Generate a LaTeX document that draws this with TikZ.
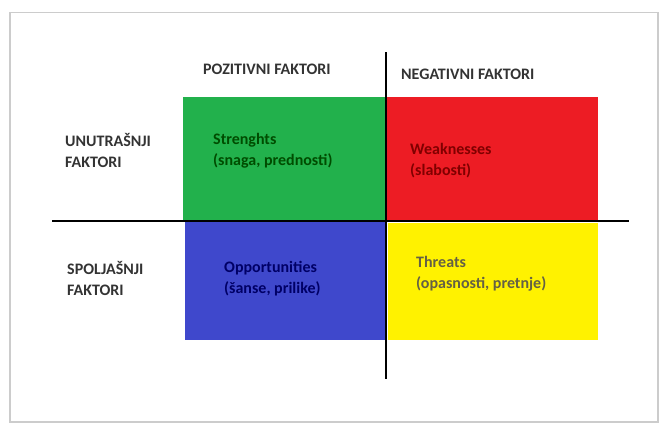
\documentclass[tikz,border=0pt]{standalone}
\usepackage{fontspec}
\setmainfont{Carlito}
\definecolor{swgreen}{RGB}{34,177,76}
\definecolor{swred}{RGB}{237,28,36}
\definecolor{swblue}{RGB}{63,72,204}
\definecolor{swyellow}{RGB}{255,242,0}
\begin{document}
\begin{tikzpicture}
		[x=1pt,y=-1pt,
		quad/.style={rectangle,anchor=north west,inner sep=0pt},
		head/.style={anchor=west,inner sep=0pt,font=\bfseries\fontsize{16}{18}\selectfont,text=black!80},
		side/.style={anchor=north west,align=left,inner sep=0pt,font=\bfseries\fontsize{16}{21}\selectfont,text=black!80},
		inner/.style={anchor=north west,align=left,inner sep=0pt,font=\bfseries\fontsize{16}{21}\selectfont},
		axis/.style={-,line width=2.2pt,black}]
		\useasboundingbox (0,0) rectangle (659,423);
		\draw[black!20,line width=1.5pt] (10,12.5) rectangle (658,422);
		% quadrants
		\node at (183,97) (s) [quad,fill=swgreen,minimum width=202pt,minimum height=123pt] {};
		\node at (387,97) (w) [quad,fill=swred,minimum width=211pt,minimum height=124pt] {};
		\node at (185,222) (o) [quad,fill=swblue,minimum width=200pt,minimum height=118pt] {};
		\node at (388,223) (t) [quad,fill=swyellow,minimum width=210pt,minimum height=117pt] {};
		% headings
		\node at (203,69) (pos) [head] {POZITIVNI FAKTORI};
		\node at (401,74) (neg) [head] {NEGATIVNI FAKTORI};
		\node at (65,133) (unu) [side] {UNUTRAŠNJI\\FAKTORI};
		\node at (67,261) (spo) [side] {SPOLJAŠNJI\\FAKTORI};
		% texts
		\node at (213,133) (st) [inner,text=green!30!black] {Strenghts\\(snaga, prednosti)};
		\node at (410,143) (wt) [inner,text=red!50!black] {Weaknesses\\(slabosti)};
		\node at (224,261) (ot) [inner,text=blue!40!black] {Opportunities\\(šanse, prilike)};
		\node at (416,256) (tt) [inner,text=yellow!30!black] {Threats\\(opasnosti, pretnje)};
		% axes
		\coordinate (hl) at (52,221);
		\coordinate (hr) at (629,221);
		\coordinate (vt) at (386,52);
		\coordinate (vb) at (386,379);
		\draw[axis] (hl) -- (hr);
		\draw[axis] (vt) -- (vb);
	\end{tikzpicture}
\end{document}
